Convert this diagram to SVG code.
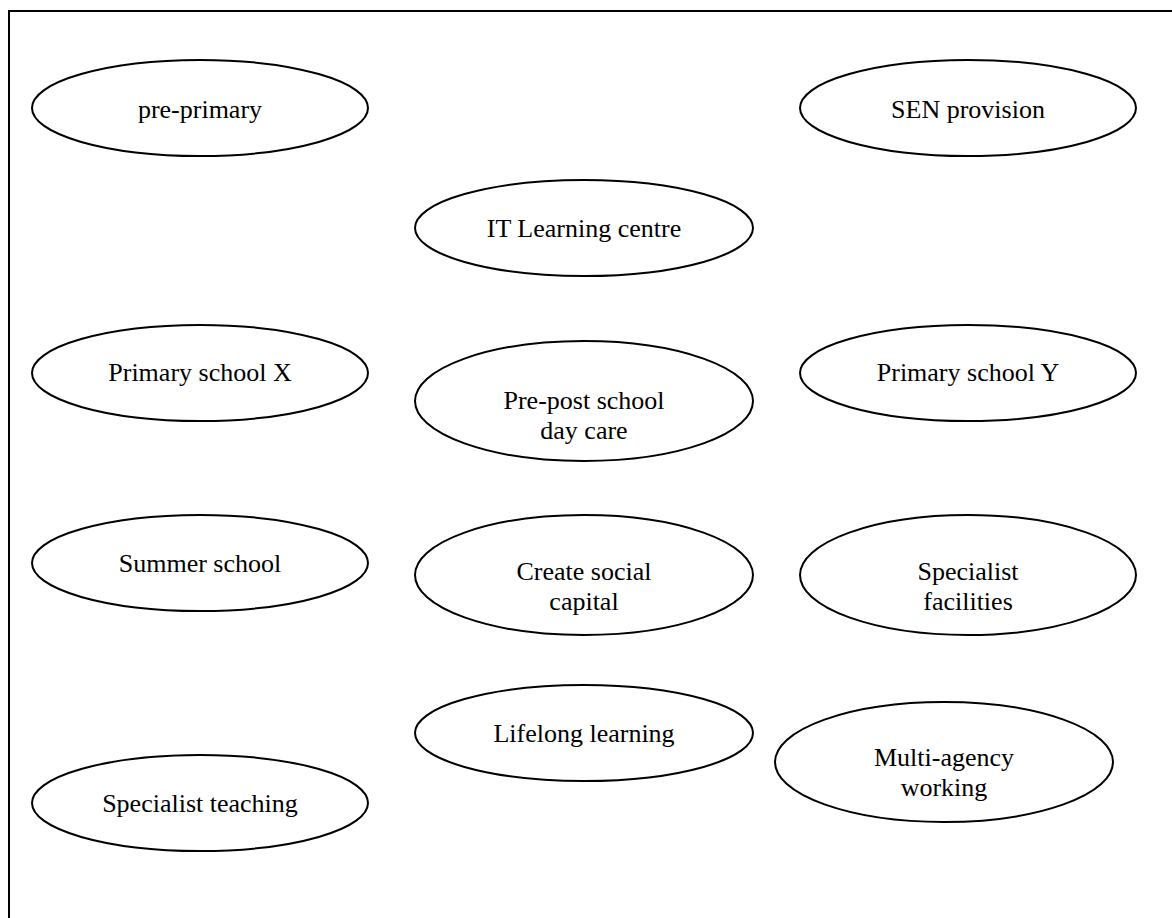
<svg xmlns="http://www.w3.org/2000/svg" width="1172" height="918" viewBox="0 0 1172 918">
<style>
.n ellipse{fill:#fff;stroke:#000;stroke-width:2}
.n text{font-family:"Liberation Serif","Times New Roman",serif;font-size:26px;fill:#000;text-anchor:middle}
.frame{fill:none;stroke:#000;stroke-width:2}
</style>
<rect width="1172" height="918" fill="#fff"/>
<path class="frame" d="M9 918 V11 H1172"/>
<g id="connectors"></g>
<g id="pre-primary" class="n"><ellipse cx="200" cy="108" rx="168" ry="48"/><text x="200" y="118">pre-primary</text></g>
<g id="sen-provision" class="n"><ellipse cx="968" cy="108" rx="168" ry="48"/><text x="968" y="118">SEN provision</text></g>
<g id="it-learning-centre" class="n"><ellipse cx="584" cy="228" rx="169" ry="48"/><text x="584" y="237">IT Learning centre</text></g>
<g id="primary-school-x" class="n"><ellipse cx="200" cy="373" rx="168" ry="48"/><text x="200" y="381">Primary school X</text></g>
<g id="pre-post-day-care" class="n"><ellipse cx="584" cy="401" rx="169" ry="60"/><text x="584" y="409">Pre-post school</text><text x="584" y="439">day care</text></g>
<g id="primary-school-y" class="n"><ellipse cx="968" cy="373" rx="168" ry="48"/><text x="968" y="381">Primary school Y</text></g>
<g id="summer-school" class="n"><ellipse cx="200" cy="563" rx="168" ry="48"/><text x="200" y="572">Summer school</text></g>
<g id="create-social-capital" class="n"><ellipse cx="584" cy="575" rx="169" ry="60"/><text x="584" y="580">Create social</text><text x="584" y="610">capital</text></g>
<g id="specialist-facilities" class="n"><ellipse cx="968" cy="575" rx="168" ry="60"/><text x="968" y="580">Specialist</text><text x="968" y="610">facilities</text></g>
<g id="lifelong-learning" class="n"><ellipse cx="584" cy="733" rx="169" ry="48"/><text x="584" y="742">Lifelong learning</text></g>
<g id="multi-agency-working" class="n"><ellipse cx="944" cy="762" rx="169" ry="60"/><text x="944" y="766">Multi-agency</text><text x="944" y="796">working</text></g>
<g id="specialist-teaching" class="n"><ellipse cx="200" cy="803" rx="168" ry="48"/><text x="200" y="812">Specialist teaching</text></g>
</svg>
